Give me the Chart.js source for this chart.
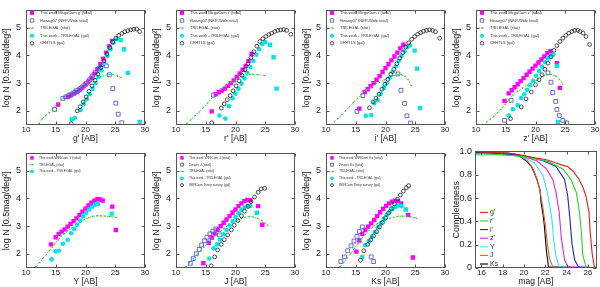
<!DOCTYPE html>
<html>
<head>
<meta charset="utf-8">
<script src="https://cdn.jsdelivr.net/npm/chart.js@4.4.1/dist/chart.umd.min.js"></script>
<style>
  body { margin: 0; background: #fff; width: 600px; height: 287px; position: relative; overflow: hidden; }
  canvas { position: absolute; }
</style>
</head>
<body>
<canvas id="cg" width="150" height="144" style="left:0;top:0"></canvas>
<canvas id="cr" width="150" height="144" style="left:150px;top:0"></canvas>
<canvas id="ci" width="150" height="144" style="left:300px;top:0"></canvas>
<canvas id="cz" width="150" height="144" style="left:450px;top:0"></canvas>
<canvas id="cy" width="150" height="144" style="left:0;top:143px"></canvas>
<canvas id="cj" width="150" height="144" style="left:150px;top:143px"></canvas>
<canvas id="ck" width="150" height="144" style="left:300px;top:143px"></canvas>
<canvas id="cc" width="150" height="144" style="left:450px;top:143px"></canvas>
<script>
// tick labels
const magTicks = [10, 15, 20, 25, 30];
const logTicks = [2, 3, 4, 5];
const compXTicks = [16, 18, 20, 22, 24, 26];
const compYTicks = [0, 0.2, 0.4, 0.6, 0.8, 1];

// g'
const gTotX = [15.4, 17.0, 17.5, 18.0, 18.5, 19.0, 19.5, 20.0, 20.5, 21.0, 21.5, 22.0, 22.5, 23.0, 23.5, 24.0, 24.5];
const gTotY = [2.23, 2.51, 2.56, 2.62, 2.68, 2.76, 2.85, 2.95, 3.06, 3.19, 3.34, 3.5, 3.68, 3.88, 4.1, 4.32, 4.52];
const gHwX = [14.8, 16.2, 16.7, 17.2, 17.7, 18.2, 18.7, 19.2, 19.7, 20.2, 20.7, 21.2, 21.7, 22.2, 22.7, 23.5, 24.0, 24.6, 25.1, 25.5, 26.1];
const gHwY = [2.05, 2.45, 2.5, 2.55, 2.6, 2.66, 2.73, 2.81, 2.9, 3.0, 3.12, 3.26, 3.4, 3.52, 3.66, 3.62, 3.3, 2.8, 2.28, 1.88, 1.57];
const gTriX = [12.2, 12.7, 13.3, 13.9, 14.6, 15.3, 16.2, 17.0, 18.1, 19.3, 20.4, 21.5, 22.6, 23.8, 24.6, 25.4, 26.0];
const gTriY = [1.54, 1.71, 1.83, 1.94, 2.11, 2.28, 2.46, 2.63, 2.78, 2.91, 3.03, 3.14, 3.23, 3.31, 3.31, 3.25, 3.2];
const gGalX = [17.7, 18.2, 19.2, 19.7, 20.2, 20.7, 21.2, 21.7, 22.2, 22.7, 23.2, 23.7, 24.2, 24.7, 25.2];
const gGalY = [1.7, 1.74, 2.03, 2.24, 2.42, 2.6, 2.8, 3.0, 3.22, 3.46, 3.72, 3.98, 4.22, 4.45, 4.58];
const gIncX = [25.9, 26.5, 27.1, 29.1];
const gIncY = [4.55, 4.22, 3.37, 1.6];
const gCfX = [17.6, 18.6, 19.1, 19.6, 20.1, 20.6, 21.1, 21.6, 22.1, 22.6, 23.1, 23.6, 24.1, 24.6, 25.1, 25.6, 26.1, 26.6, 27.1, 27.6, 28.1, 28.6, 29.1];
const gCfY = [1.54, 2.0, 2.15, 2.32, 2.5, 2.7, 2.9, 3.1, 3.32, 3.56, 3.8, 4.05, 4.28, 4.48, 4.62, 4.72, 4.79, 4.85, 4.89, 4.92, 4.94, 4.95, 4.86];

// r'
const rTotX = [16.0, 16.7, 17.2, 17.7, 18.2, 18.7, 19.2, 19.7, 20.2, 20.7, 21.2, 21.7, 22.2, 22.7];
const rTotY = [1.98, 2.6, 2.67, 2.73, 2.8, 2.9, 3.0, 3.1, 3.22, 3.35, 3.48, 3.62, 3.8, 4.05];
const rHwX = [16.3];
const rHwY = [2.57];
const rTriX = [11.8, 12.5, 13.2, 13.9, 14.6, 15.3, 16.0, 16.7, 17.5, 18.4, 19.3, 20.2, 21.1, 22.0, 22.9, 23.8, 24.9];
const rTriY = [1.54, 1.68, 1.82, 1.96, 2.12, 2.28, 2.45, 2.62, 2.78, 2.92, 3.04, 3.15, 3.24, 3.3, 3.32, 3.3, 3.27];
const rGalX = [17.3, 18.3, 18.9, 19.5, 20.0, 20.5, 21.0, 21.5, 22.0, 22.5, 23.0, 23.5, 24.0, 24.5, 25.0];
const rGalY = [1.83, 1.72, 2.17, 2.45, 2.62, 2.8, 2.98, 3.17, 3.37, 3.58, 3.8, 4.02, 4.22, 4.4, 4.48];
const rIncX = [25.8, 26.4, 26.9];
const rIncY = [4.38, 3.93, 2.8];
const rCfX = [16.0, 17.6, 18.1, 18.6, 19.1, 19.6, 20.1, 20.6, 21.1, 21.6, 22.1, 22.6, 23.1, 23.6, 24.1, 24.6, 25.1, 25.6, 26.1, 26.6, 27.1, 27.6, 28.1, 28.6, 29.3];
const rCfY = [1.57, 2.1, 2.25, 2.4, 2.55, 2.72, 2.9, 3.08, 3.28, 3.48, 3.7, 3.92, 4.13, 4.33, 4.5, 4.6, 4.68, 4.75, 4.8, 4.86, 4.9, 4.92, 4.93, 4.9, 4.76];

// i'
const iTotX = [15.6, 16.5, 17.0, 17.5, 18.0, 18.5, 19.0, 19.5, 20.0, 20.5, 21.0, 21.5, 22.0, 22.5, 23.0];
const iTotY = [2.08, 2.68, 2.78, 2.89, 3.0, 3.12, 3.25, 3.4, 3.54, 3.68, 3.82, 3.96, 4.1, 4.25, 4.38];
const iHwX = [15.2, 16.2, 22.1, 22.6, 23.2, 23.6, 24.2];
const iHwY = [1.98, 2.55, 3.33, 2.74, 2.27, 1.82, 1.56];
const iTriX = [11.4, 12.0, 12.7, 13.3, 13.9, 14.6, 15.3, 16.0, 16.7, 17.5, 18.3, 19.0, 19.8, 20.7, 21.4, 22.1, 22.7, 23.3, 23.8, 24.3];
const iTriY = [1.6, 1.72, 1.86, 2.0, 2.14, 2.3, 2.45, 2.6, 2.74, 2.86, 2.96, 3.03, 3.12, 3.2, 3.27, 3.31, 3.3, 3.24, 3.12, 2.91];
const iGalX = [16.7, 17.6, 18.1, 18.7, 19.2, 19.7, 20.2, 20.7, 21.2, 21.7, 22.2, 22.7, 23.2, 23.7, 24.1];
const iGalY = [1.82, 1.85, 2.28, 2.38, 2.62, 2.82, 3.0, 3.2, 3.4, 3.6, 3.8, 3.98, 4.15, 4.3, 4.36];
const iIncX = [24.9, 25.3, 25.8];
const iIncY = [4.17, 3.52, 2.1];
const iCfX = [17.3, 17.9, 18.4, 18.9, 19.4, 19.9, 20.4, 20.9, 21.4, 21.9, 22.4, 22.9, 23.4, 23.9, 24.4, 24.9, 25.4, 25.9, 26.4, 26.9, 27.4, 27.9, 28.4, 29.1];
const iCfY = [2.11, 2.32, 2.46, 2.6, 2.78, 2.96, 3.14, 3.32, 3.5, 3.7, 3.9, 4.1, 4.3, 4.45, 4.58, 4.68, 4.76, 4.82, 4.87, 4.9, 4.92, 4.9, 4.85, 4.62];

// z'
const zTotX = [14.8, 15.5, 16.0, 16.5, 17.0, 17.5, 18.0, 18.5, 19.0, 19.5, 20.0, 20.5, 21.0, 21.5, 22.0, 22.5, 23.6, 24.1];
const zTotY = [2.36, 2.63, 2.74, 2.85, 2.96, 3.07, 3.18, 3.3, 3.41, 3.52, 3.63, 3.74, 3.85, 3.96, 4.08, 4.15, 3.72, 2.83];
const zHwX = [14.8, 15.9, 22.1, 22.6, 22.9, 23.4, 23.6, 24.0, 24.6, 25.2];
const zHwY = [1.66, 2.38, 3.37, 3.03, 2.66, 2.34, 2.05, 1.83, 1.66, 1.57];
const zTriX = [11.8, 12.4, 13.0, 13.6, 14.2, 14.9, 15.5, 16.2, 17.0, 17.8, 18.6, 19.4, 20.2, 21.0, 21.8, 22.6, 23.4, 24.0, 24.6];
const zTriY = [1.6, 1.7, 1.8, 1.92, 2.06, 2.23, 2.4, 2.56, 2.7, 2.82, 2.93, 3.02, 3.1, 3.2, 3.3, 3.32, 3.25, 3.14, 2.97];
const zGalX = [15.5, 16.2, 17.0, 17.6, 18.1, 18.6, 19.1, 19.6, 20.1, 20.6, 21.1, 21.6, 22.1, 22.6, 23.0];
const zGalY = [1.83, 2.06, 2.2, 2.46, 2.6, 2.76, 2.92, 3.08, 3.26, 3.44, 3.6, 3.76, 3.9, 4.0, 4.03];
const zIncX = [23.6, 23.8];
const zIncY = [3.62, 1.6];
const zCfX = [15.8, 17.6, 18.4, 19.3, 20.0, 20.6, 21.1, 21.6, 22.1, 22.6, 23.1, 23.6, 24.1, 24.6, 25.1, 25.6, 26.1, 26.6, 27.1, 27.5, 28.0, 28.5, 29.1];
const zCfY = [1.72, 2.14, 2.43, 2.68, 2.94, 3.12, 3.3, 3.5, 3.72, 3.95, 4.18, 4.35, 4.5, 4.62, 4.72, 4.8, 4.86, 4.9, 4.9, 4.86, 4.8, 4.68, 4.39];

// Y
const yTotX = [14.2, 15.0, 15.5, 16.0, 16.5, 17.0, 17.5, 18.0, 18.5, 19.0, 19.5, 20.0, 20.5, 21.0, 21.5, 22.0, 22.5, 22.9, 24.5, 25.1];
const yTotY = [2.34, 2.6, 2.72, 2.8, 2.88, 2.98, 3.08, 3.18, 3.28, 3.4, 3.52, 3.63, 3.74, 3.84, 3.92, 3.97, 3.96, 3.92, 3.7, 2.86];
const yTriX = [11.7, 12.3, 12.8, 13.4, 13.9, 14.4, 14.8, 15.4, 15.9, 16.5, 17.0, 17.7, 18.4, 19.1, 19.8, 20.5, 21.2, 21.9, 22.6, 23.3, 24.0, 24.6, 25.2];
const yTriY = [1.54, 1.69, 1.83, 1.97, 2.11, 2.24, 2.36, 2.5, 2.63, 2.73, 2.82, 2.93, 3.03, 3.13, 3.23, 3.3, 3.35, 3.37, 3.37, 3.36, 3.35, 3.33, 3.31];
const yGalX = [14.3, 15.0, 15.5, 16.2, 17.0, 17.6, 18.1, 18.6, 19.1, 19.6, 20.1, 20.6, 21.1, 21.6, 22.1];
const yGalY = [1.8, 2.09, 2.11, 2.36, 2.51, 2.74, 2.9, 3.05, 3.2, 3.35, 3.48, 3.6, 3.7, 3.77, 3.8];
const yIncX = [24.4];
const yIncY = [3.45];

// J
const jTotX = [14.6, 15.5, 16.0, 16.5, 17.0, 17.5, 18.0, 18.5, 19.0, 19.5, 20.0, 20.5, 21.0, 21.5, 22.0, 22.5, 23.8, 24.5];
const jTotY = [1.66, 2.4, 2.58, 2.73, 2.87, 3.0, 3.12, 3.24, 3.36, 3.48, 3.6, 3.72, 3.82, 3.9, 3.94, 3.93, 3.72, 3.05];
const jMassX = [12.4, 12.9, 13.4, 13.9, 14.3, 14.8, 15.2, 15.7, 16.2, 16.7, 17.3];
const jMassY = [1.66, 1.83, 2.0, 2.16, 2.32, 2.47, 2.6, 2.72, 2.82, 2.9, 2.68];
const jTriX = [11.7, 12.3, 12.9, 13.5, 14.1, 14.7, 15.3, 16.0, 16.7, 17.4, 18.1, 18.8, 19.5, 20.2, 20.9, 21.6, 22.3, 23.0, 23.7, 24.4, 25.0, 25.4];
const jTriY = [1.54, 1.68, 1.82, 1.96, 2.1, 2.24, 2.38, 2.53, 2.67, 2.8, 2.92, 3.03, 3.13, 3.21, 3.28, 3.32, 3.34, 3.33, 3.28, 3.2, 3.1, 3.03];
const jGalX = [15.6, 16.3, 16.9, 17.4, 18.0, 18.5, 19.0, 19.5, 20.0, 20.5, 21.0, 21.5, 22.0, 22.5];
const jGalY = [1.83, 2.2, 2.34, 2.51, 2.7, 2.86, 3.02, 3.18, 3.33, 3.46, 3.58, 3.67, 3.73, 3.72];
const jIncX = [23.6];
const jIncY = [3.48];
const jDeepX = [15.9, 16.5, 17.0, 17.6, 18.1, 18.7, 19.3, 19.8, 20.4, 21.0, 21.5, 22.1, 22.6, 23.2, 23.8, 24.3, 24.9];
const jDeepY = [1.57, 1.89, 2.14, 2.34, 2.51, 2.68, 2.86, 3.03, 3.2, 3.37, 3.54, 3.71, 3.88, 4.05, 4.22, 4.34, 4.36];

// Ks
const kTotX = [15.1, 15.6, 16.1, 16.6, 17.1, 17.6, 18.1, 18.6, 19.1, 19.6, 20.1, 20.6, 21.1, 21.6, 22.1, 22.6, 23.8, 24.6];
const kTotY = [2.08, 2.48, 2.72, 2.86, 2.98, 3.1, 3.22, 3.36, 3.5, 3.62, 3.73, 3.82, 3.88, 3.92, 3.9, 3.82, 3.4, 1.87];
const kMassX = [12.5, 13.1, 13.65, 14.2, 14.7, 15.2, 15.6, 16.1, 17.6, 18.0];
const kMassY = [1.72, 1.89, 2.11, 2.29, 2.46, 2.63, 2.8, 2.97, 1.89, 1.72];
const kTriX = [12.4, 13.0, 13.6, 14.2, 14.8, 15.4, 16.0, 16.6, 17.2, 17.9, 18.6, 19.3, 20.0, 20.7, 21.4, 22.1, 22.8, 23.5, 24.2, 24.9, 25.2];
const kTriY = [1.54, 1.7, 1.86, 2.02, 2.2, 2.38, 2.55, 2.7, 2.84, 2.97, 3.08, 3.16, 3.23, 3.28, 3.32, 3.35, 3.36, 3.36, 3.34, 3.3, 3.28];
const kGalX = [16.1, 16.6, 17.2, 17.7, 18.2, 18.7, 19.2, 19.7, 20.2, 20.7, 21.2, 21.7, 22.2, 22.7];
const kGalY = [1.89, 2.32, 2.46, 2.62, 2.78, 2.95, 3.1, 3.25, 3.4, 3.52, 3.62, 3.7, 3.74, 3.72];
const kIncX = [23.4];
const kIncY = [3.6];
const kDeepX = [15.8, 16.35, 17.0, 17.5, 18.0, 18.5, 19.0, 19.5, 20.0, 20.5, 21.0, 21.5, 22.0, 22.5, 23.0, 23.5, 23.9];
const kDeepY = [1.77, 2.11, 2.34, 2.5, 2.64, 2.8, 2.97, 3.13, 3.3, 3.47, 3.63, 3.8, 3.97, 4.12, 4.26, 4.38, 4.46];

// completeness curves
const compGX = [15.4, 16, 17, 18, 19, 20, 21, 22, 22.4, 23, 23.65, 24.1, 24.6, 25.1, 25.5, 25.8, 26.1, 26.2, 26.4, 26.6, 26.85];
const compGY = [1.0, 0.995, 0.99, 0.985, 0.98, 0.965, 0.945, 0.93, 0.92, 0.9, 0.88, 0.87, 0.83, 0.77, 0.7, 0.62, 0.48, 0.32, 0.12, 0.01, 0];
const compRX = [15.4, 16, 17, 18, 19, 20, 21, 22, 22.4, 23, 23.65, 24.4, 24.9, 25.2, 25.4, 25.5, 25.8, 26.85];
const compRY = [0.98, 0.98, 0.975, 0.97, 0.965, 0.955, 0.94, 0.92, 0.91, 0.88, 0.85, 0.76, 0.65, 0.48, 0.29, 0.12, 0.01, 0];
const compIX = [15.4, 16, 17, 18, 19, 20, 21, 21.8, 23, 23.8, 24.1, 24.3, 24.5, 24.75, 25.1, 26.85];
const compIY = [0.99, 0.99, 0.985, 0.98, 0.97, 0.96, 0.94, 0.92, 0.87, 0.76, 0.62, 0.43, 0.21, 0.07, 0.01, 0];
const compZX = [15.4, 16, 17, 18, 19, 20, 21.2, 22.1, 22.7, 23.0, 23.3, 23.5, 23.8, 24.1, 26.85];
const compZY = [0.99, 0.99, 0.985, 0.98, 0.97, 0.955, 0.92, 0.85, 0.76, 0.65, 0.48, 0.26, 0.07, 0.01, 0];
const compYX = [15.4, 16, 17, 18, 19, 20, 21.0, 21.8, 22.25, 22.6, 22.8, 23.0, 23.3, 26.85];
const compYY = [0.97, 0.97, 0.97, 0.975, 0.965, 0.95, 0.9, 0.79, 0.62, 0.43, 0.23, 0.1, 0.01, 0];
const compJX = [15.4, 16, 17, 18, 19, 19.6, 20.3, 20.8, 21.2, 21.5, 21.8, 22.0, 22.2, 22.4, 22.7, 26.85];
const compJY = [0.98, 0.985, 0.99, 0.99, 0.98, 0.965, 0.92, 0.86, 0.77, 0.66, 0.5, 0.37, 0.2, 0.08, 0.01, 0];
const compKX = [15.4, 16, 17, 18, 19, 19.5, 20.2, 20.7, 21.0, 21.2, 21.5, 21.6, 21.8, 21.9, 22.1, 22.3, 26.85];
const compKY = [0.98, 0.985, 0.99, 0.99, 0.98, 0.965, 0.92, 0.87, 0.81, 0.76, 0.67, 0.56, 0.45, 0.37, 0.15, 0.01, 0];

const FONT = '"Liberation Sans", Arial, sans-serif';
Chart.defaults.font.family = FONT;
Chart.defaults.color = '#222';

const MAG = '#ff00ff', CYAN = '#00e6e6', BLUE = '#5a5ad2', GREEN = '#3ccc3c', DARK = '#222';

const pts = (xs, ys) => xs.map((x, i) => ({x: x, y: ys[i]}));

function total(label, xs, ys) {
  return {label, data: pts(xs, ys), pointStyle: 'rect', pointRadius: 3.1, backgroundColor: MAG, borderWidth: 0, order: 6};
}
function survey(label, xs, ys) {
  return {label, data: pts(xs, ys), pointStyle: 'rect', pointRadius: 2.7, backgroundColor: 'rgba(0,0,0,0)', borderColor: BLUE, borderWidth: 0.9, order: 5};
}
function trilegal(xs, ys) {
  return {label: 'TRILEGAL (star)', data: pts(xs, ys), showLine: true, borderColor: GREEN, borderWidth: 0.9, borderDash: [2, 1.5],
    pointRadius: 0.8, pointBackgroundColor: GREEN, pointBorderWidth: 0, backgroundColor: GREEN, order: 4};
}
function gal(xs, ys) {
  return {label: 'This work - TRILEGAL (gal)', data: pts(xs, ys), pointStyle: 'circle', pointRadius: 2.3, backgroundColor: CYAN, borderWidth: 0, order: 3};
}
function galInc(xs, ys) {
  return {data: pts(xs, ys), pointStyle: 'rect', pointRadius: 3.1, backgroundColor: CYAN, borderWidth: 0, order: 3};
}
function deep(label, xs, ys) {
  return {label, data: pts(xs, ys), pointStyle: 'circle', pointRadius: 1.9, backgroundColor: 'rgba(0,0,0,0)', borderColor: DARK, borderWidth: 0.8, order: 1};
}
function comp(label, color, xs, ys) {
  return {label, data: pts(xs, ys), showLine: true, borderColor: color, backgroundColor: color, borderWidth: 1.1, pointRadius: 0, tension: 0};
}

function mark(ctx, ds, x, y, r) {
  ctx.beginPath();
  if (ds.pointStyle === 'rect') {
    const s = r * Math.SQRT1_2;
    ctx.rect(x - s, y - s, 2 * s, 2 * s);
  } else {
    ctx.arc(x, y, r, 0, Math.PI * 2);
  }
  if (ds.backgroundColor !== 'rgba(0,0,0,0)') { ctx.fillStyle = ds.backgroundColor; ctx.fill(); }
  if (ds.borderWidth > 0) { ctx.strokeStyle = ds.borderColor; ctx.lineWidth = ds.borderWidth; ctx.stroke(); }
}

// box round the plot with inward tick marks
const frame = {
  id: 'frame',
  afterDatasetsDraw(chart) {
    const {ctx, chartArea: a, scales} = chart;
    const L = Math.round(a.left) + 0.5, R = Math.round(a.right) - 0.5;
    const T = Math.round(a.top) + 0.5, B = Math.round(a.bottom) - 0.5;
    ctx.save();
    ctx.strokeStyle = '#555';
    ctx.lineWidth = 1;
    ctx.strokeRect(L, T, R - L, B - T);
    ctx.beginPath();
    scales.x.ticks.forEach(t => {
      const p = Math.round(scales.x.getPixelForValue(t.value)) + 0.5;
      ctx.moveTo(p, B); ctx.lineTo(p, B - 3);
      ctx.moveTo(p, T); ctx.lineTo(p, T + 3);
    });
    scales.y.ticks.forEach(t => {
      const p = Math.round(scales.y.getPixelForValue(t.value)) + 0.5;
      ctx.moveTo(L, p); ctx.lineTo(L + 3, p);
      ctx.moveTo(R, p); ctx.lineTo(R - 3, p);
    });
    ctx.stroke();
    ctx.restore();
  }
};

// small key in the corner of the plot
const keyBox = {
  id: 'keyBox',
  afterDraw(chart, args, o) {
    const {ctx, chartArea: a} = chart;
    ctx.save();
    ctx.font = o.size + 'px ' + FONT;
    ctx.textBaseline = 'middle';
    let row = 0;
    chart.data.datasets.forEach(ds => {
      if (!ds.label) return;
      const y = a.top + o.top + row * o.gap;
      const x = a.left + o.mx;
      if (ds.showLine) {
        ctx.strokeStyle = ds.borderColor;
        ctx.lineWidth = ds.borderWidth;
        ctx.setLineDash(ds.borderDash || []);
        ctx.beginPath();
        ctx.moveTo(x - o.lw, y); ctx.lineTo(x + o.lw, y);
        ctx.stroke();
        ctx.setLineDash([]);
        if (ds.pointRadius > 0) {
          ctx.fillStyle = ds.borderColor;
          ctx.beginPath(); ctx.arc(x, y, ds.pointRadius, 0, Math.PI * 2); ctx.fill();
        }
      } else {
        mark(ctx, ds, x, y, ds.pointRadius * o.scale);
      }
      ctx.fillStyle = '#333';
      ctx.fillText(ds.label, a.left + o.tx, y);
      row++;
    });
    ctx.restore();
  }
};

function panel(id, datasets, xTitle, yTitle, c) {
  new Chart(document.getElementById(id), {
    type: 'scatter',
    data: {datasets},
    options: {
      responsive: false,
      animation: false,
      devicePixelRatio: 1,
      layout: {padding: {top: c.padTop, right: c.padRight, left: 0, bottom: 0}},
      plugins: {legend: {display: false}, tooltip: {enabled: false}, keyBox: c.key},
      scales: {
        x: {
          type: 'linear', min: c.xMin, max: c.xMax,
          afterBuildTicks: s => { s.ticks = c.xTicks.map(v => ({value: v})); },
          afterFit: s => { s.height = c.xH; },
          grid: {display: false, drawTicks: false}, border: {display: false},
          ticks: {font: {size: 8}, padding: 0, maxRotation: 0, autoSkip: false},
          title: {display: true, text: xTitle, font: {size: 8.5}, padding: {top: 0, bottom: 0}}
        },
        y: {
          type: 'linear', min: c.yMin, max: c.yMax,
          afterBuildTicks: s => { s.ticks = c.yTicks.map(v => ({value: v})); },
          afterFit: s => { s.width = c.yW; },
          grid: {display: false, drawTicks: false}, border: {display: false},
          ticks: {font: {size: 9}, padding: c.yPad, autoSkip: false},
          title: {display: true, text: yTitle, font: {size: 9}, padding: {top: 1.5, bottom: 0}}
        }
      }
    },
    plugins: [frame, keyBox]
  });
}

const yLog = 'log N [0.5mag/deg²]';
const topRow = {padTop: 4, padRight: 5, xH: 19, yW: 26, yPad: 5, xMin: 10, xMax: 30, yMin: 1.49, yMax: 5.62,
  xTicks: magTicks, yTicks: logTicks, key: {top: 2.5, gap: 7.6, mx: 6, tx: 14, lw: 3.5, size: 4, scale: 0.9}};
const lowRow = Object.assign({}, topRow, {padTop: 5, key: {top: 4.5, gap: 6.8, mx: 6, tx: 13, lw: 3.5, size: 3.4, scale: 0.8}});

panel('cg', [
  total("This work MegaCam g' (total)", gTotX, gTotY),
  survey('Hwang07 (NEP-Wide total)', gHwX, gHwY),
  trilegal(gTriX, gTriY),
  gal(gGalX, gGalY),
  deep('CFHTLS (gal)', gCfX, gCfY),
  galInc(gIncX, gIncY)
], "g' [AB]", yLog, topRow);

panel('cr', [
  total("This work MegaCam r' (total)", rTotX, rTotY),
  survey('Hwang07 (NEP-Wide total)', rHwX, rHwY),
  trilegal(rTriX, rTriY),
  gal(rGalX, rGalY),
  deep('CFHTLS (gal)', rCfX, rCfY),
  galInc(rIncX, rIncY)
], "r' [AB]", yLog, topRow);

panel('ci', [
  total("This work MegaCam i' (total)", iTotX, iTotY),
  survey('Hwang07 (NEP-Wide total)', iHwX, iHwY),
  trilegal(iTriX, iTriY),
  gal(iGalX, iGalY),
  deep('CFHTLS (gal)', iCfX, iCfY),
  galInc(iIncX, iIncY)
], "i' [AB]", yLog, topRow);

panel('cz', [
  total("This work MegaCam z' (total)", zTotX, zTotY),
  survey('Hwang07 (NEP-Wide total)', zHwX, zHwY),
  trilegal(zTriX, zTriY),
  gal(zGalX, zGalY),
  deep('CFHTLS (gal)', zCfX, zCfY),
  galInc(zIncX, zIncY)
], "z' [AB]", yLog, topRow);

panel('cy', [
  total('This work WIRCam Y (total)', yTotX, yTotY),
  trilegal(yTriX, yTriY),
  gal(yGalX, yGalY),
  galInc(yIncX, yIncY)
], 'Y [AB]', yLog, lowRow);

panel('cj', [
  total('This work WIRCam J (total)', jTotX, jTotY),
  survey('2mass J (total)', jMassX, jMassY),
  trilegal(jTriX, jTriY),
  gal(jGalX, jGalY),
  deep('WIRCam Deep survey (gal)', jDeepX, jDeepY),
  galInc(jIncX, jIncY)
], 'J [AB]', yLog, lowRow);

panel('ck', [
  total('This work WIRCam Ks (total)', kTotX, kTotY),
  survey('2mass Ks (total)', kMassX, kMassY),
  trilegal(kTriX, kTriY),
  gal(kGalX, kGalY),
  deep('WIRCam Deep survey (gal)', kDeepX, kDeepY),
  galInc(kIncX, kIncY)
], 'Ks [AB]', yLog, lowRow);

panel('cc', [
  comp("g'", '#e01b1b', compGX, compGY),
  comp("r'", '#22d822', compRX, compRY),
  comp("i'", '#2020c8', compIX, compIY),
  comp("z'", '#e820e8', compZX, compZY),
  comp('Y', '#30e8e8', compYX, compYY),
  comp('J', '#e0602a', compJX, compJY),
  comp('Ks', '#000000', compKX, compKY)
], 'mag [AB]', 'Completeness', {padTop: 3, padRight: 3, xH: 19, yW: 25, yPad: 3, xMin: 15.4, xMax: 26.85, yMin: 0, yMax: 1,
  xTicks: compXTicks, yTicks: compYTicks, key: {top: 61, gap: 8.6, mx: 9, tx: 15, lw: 4, size: 7, scale: 1}});
</script>
</body>
</html>
